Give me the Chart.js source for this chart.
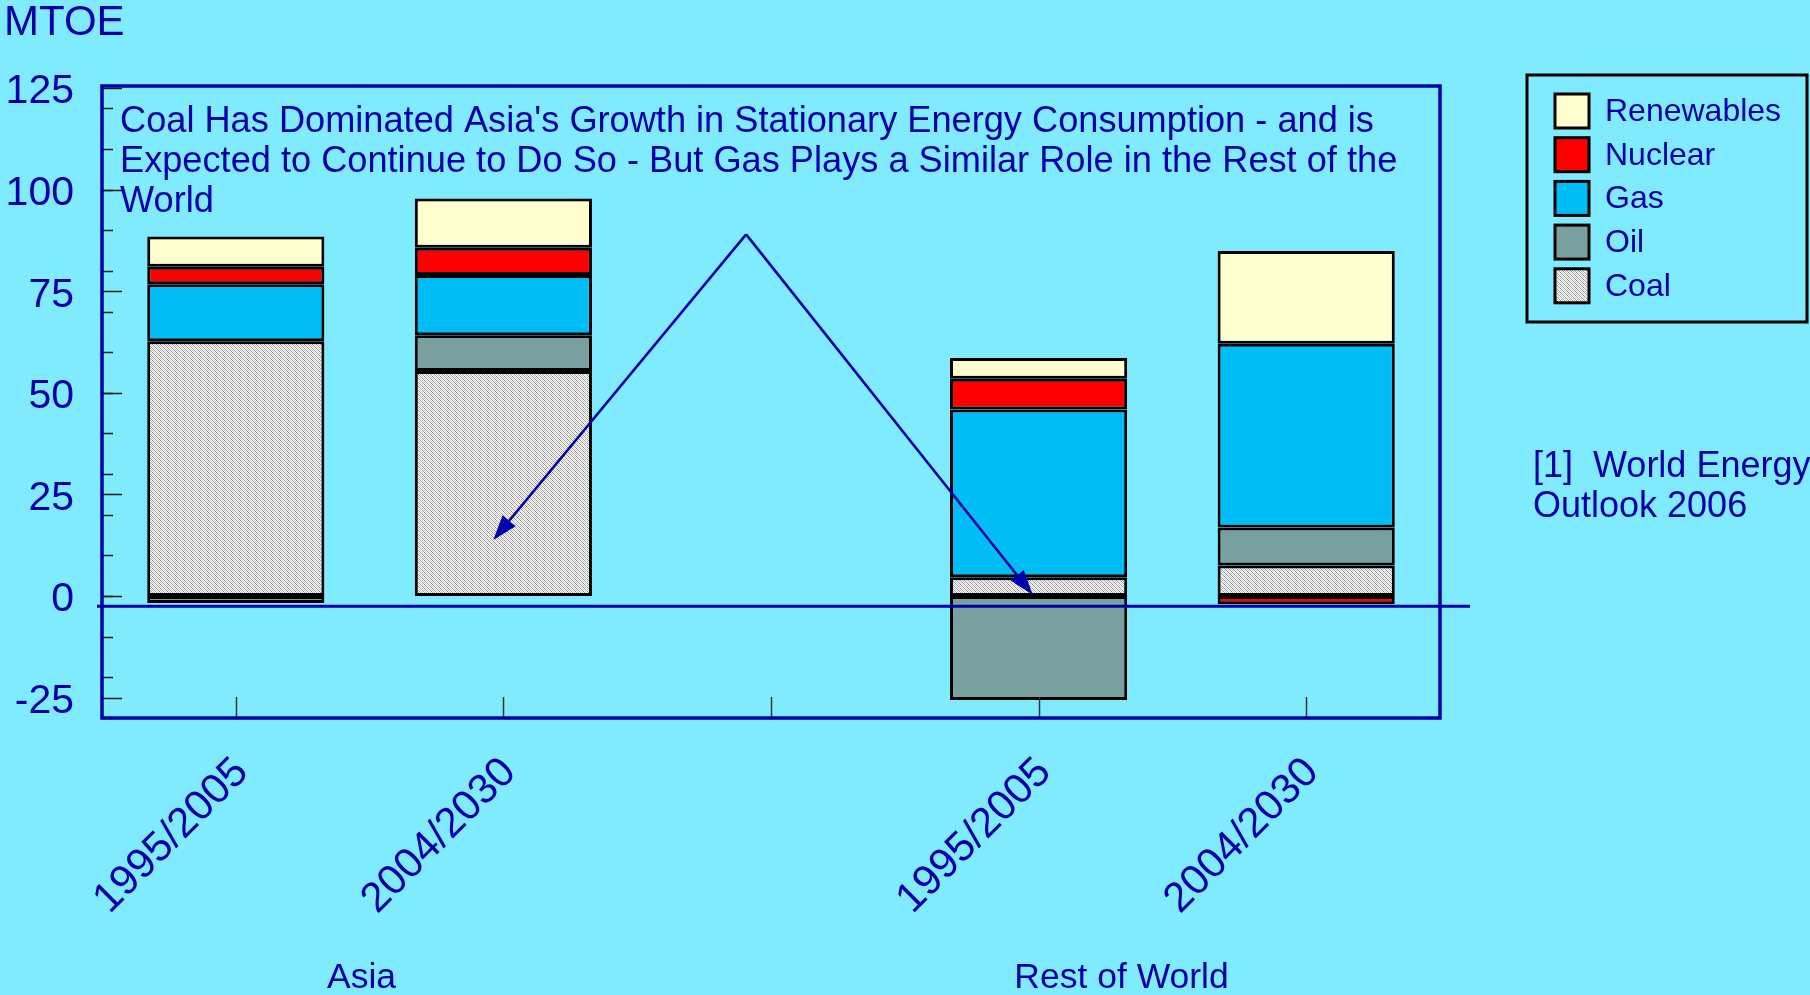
<!DOCTYPE html>
<html>
<head>
<meta charset="utf-8">
<script src="https://cdn.jsdelivr.net/npm/chart.js@4/dist/chart.umd.min.js"></script>
<style>
  html, body { margin: 0; padding: 0; background: #80EAFF; }
  #wrap { width: 1810px; height: 995px; }
</style>
</head>
<body>
<div id="wrap"><canvas id="chart" width="1810" height="995"></canvas></div>
<script>
// Data (MTOE change per period)
const periods = ['1995/2005', '2004/2030', '', '1995/2005', '2004/2030'];
const regions = ['Asia', 'Rest of World'];
const coal = [62.7, 55.4, null, 4.6, 7.5];
const oil = [-1.7, 8.8, null, -25.6, 9.4];
const gas = [14.0, 14.8, null, 41.3, 45.2];
const nuclear = [4.3, 6.7, null, 7.6, -2.0];
const renewables = [7.5, 12.1, null, 5.1, 22.8];
const yTickValues = [-25, 0, 25, 50, 75, 100, 125];
const titleLines = [
  "Coal Has Dominated Asia's Growth in Stationary Energy Consumption - and is",
  'Expected to Continue to Do So - But Gas Plays a Similar Role in the Rest of the',
  'World'
];
const footnote = ['[1]  World Energy', 'Outlook 2006'];

const FONT = '"Liberation Sans", Arial, sans-serif';
const BLUE = '#0000A8';

function coalPattern() {
  const c = document.createElement('canvas');
  c.width = 4; c.height = 4;
  const g = c.getContext('2d');
  g.fillStyle = '#ffffff';
  g.fillRect(0, 0, 4, 4);
  g.fillStyle = '#9a9a9a';
  for (let i = 0; i < 4; i++) {
    g.fillRect(i, i, 1, 1);
  }
  g.fillStyle = '#d0d0d0';
  for (let i = 0; i < 4; i++) {
    g.fillRect((i + 2) % 4, i, 1, 1);
  }
  return g.createPattern(c, 'repeat');
}

const coalFill = coalPattern();

const series = [
  { label: 'Coal', data: coal, backgroundColor: coalFill },
  { label: 'Oil', data: oil, backgroundColor: '#78A09E' },
  { label: 'Gas', data: gas, backgroundColor: '#00BEF5' },
  { label: 'Nuclear', data: nuclear, backgroundColor: '#FF0000' },
  { label: 'Renewables', data: renewables, backgroundColor: '#FFFFD0' }
];

const decor = {
  id: 'decor',
  afterDatasetsDraw(chart) {
    const { ctx, chartArea: a, scales: { x, y } } = chart;
    ctx.save();

    // tick marks pointing inward
    ctx.strokeStyle = '#1a1a1a';
    ctx.lineWidth = 1.5;
    for (let v = -30; v <= 125; v += 10) {
      const py = Math.round(y.getPixelForValue(v)) + 0.5;
      ctx.beginPath(); ctx.moveTo(a.left, py); ctx.lineTo(a.left + 11, py); ctx.stroke();
    }
    yTickValues.forEach(v => {
      const py = Math.round(y.getPixelForValue(v)) + 0.5;
      ctx.beginPath(); ctx.moveTo(a.left, py); ctx.lineTo(a.left + 20, py); ctx.stroke();
    });
    ctx.strokeStyle = '#333';
    periods.forEach((p, i) => {
      const px = Math.round(x.getPixelForValue(i)) + 0.5;
      ctx.beginPath(); ctx.moveTo(px, a.bottom); ctx.lineTo(px, a.bottom - 21); ctx.stroke();
    });

    // frame
    ctx.strokeStyle = BLUE;
    ctx.lineWidth = 3.5;
    ctx.strokeRect(a.left, a.top, a.right - a.left, a.bottom - a.top);

    // baseline line
    const zy = y.getPixelForValue(-2.5);
    ctx.lineWidth = 3;
    ctx.beginPath(); ctx.moveTo(a.left - 5, zy); ctx.lineTo(a.right + 30, zy); ctx.stroke();

    // arrows
    const apex = [x.getPixelForValue(1.907), y.getPixelForValue(89)];
    const tips = [
      [x.getPixelForValue(0.962), y.getPixelForValue(13.8)],
      [x.getPixelForValue(2.978), y.getPixelForValue(0.3)]
    ];
    ctx.lineWidth = 2.6;
    ctx.fillStyle = BLUE;
    tips.forEach(t => {
      const ang = Math.atan2(t[1] - apex[1], t[0] - apex[0]);
      const len = 25, hw = 8.5;
      const bx = t[0] - len * Math.cos(ang), by = t[1] - len * Math.sin(ang);
      ctx.beginPath(); ctx.moveTo(apex[0], apex[1]); ctx.lineTo(bx, by); ctx.stroke();
      ctx.beginPath();
      ctx.moveTo(t[0], t[1]);
      ctx.lineTo(bx + hw * Math.sin(ang), by - hw * Math.cos(ang));
      ctx.lineTo(bx - hw * Math.sin(ang), by + hw * Math.cos(ang));
      ctx.closePath(); ctx.fill();
    });

    // texts
    ctx.fillStyle = BLUE;
    ctx.textBaseline = 'alphabetic';
    ctx.textAlign = 'left';
    ctx.font = '42px ' + FONT;
    ctx.fillText('MTOE', 4, 35);
    ctx.font = '36.2px ' + FONT;
    titleLines.forEach((l, i) => ctx.fillText(l, a.left + 18, 132 + i * 40));
    ctx.textAlign = 'center';
    ctx.font = '35.5px ' + FONT;
    ctx.fillText(regions[0], x.getPixelForValue(0.47), 988);
    ctx.fillText(regions[1], x.getPixelForValue(3.31), 988);
    ctx.textAlign = 'left';
    ctx.font = '36px ' + FONT;
    footnote.forEach((l, i) => ctx.fillText(l, 1533, 477 + i * 40));

    // legend
    ctx.strokeStyle = '#000';
    ctx.lineWidth = 3;
    ctx.strokeRect(1527, 75, 280, 247);
    ctx.font = '32px ' + FONT;
    ctx.textBaseline = 'middle';
    const order = [...chart.data.datasets].reverse();
    order.forEach((ds, i) => {
      const top = 94 + i * 43.7;
      ctx.fillStyle = ds.backgroundColor;
      ctx.fillRect(1555, top, 34, 34);
      ctx.strokeStyle = '#000';
      ctx.lineWidth = 3;
      ctx.strokeRect(1555, top, 34, 34);
      ctx.fillStyle = BLUE;
      ctx.fillText(ds.label, 1605, top + 18);
    });
    ctx.restore();
  }
};

new Chart(document.getElementById('chart'), {
  type: 'bar',
  data: {
    labels: periods,
    datasets: series.map(s => ({
      ...s,
      borderColor: '#000',
      borderWidth: 3,
      borderSkipped: false,
      categoryPercentage: 1,
      barPercentage: 0.662
    }))
  },
  options: {
    responsive: false,
    animation: false,
    devicePixelRatio: 1,
    layout: { padding: { left: 0, top: 86, right: 370, bottom: 0 } },
    plugins: { legend: { display: false }, tooltip: { enabled: false } },
    scales: {
      x: {
        stacked: true,
        offset: true,
        grid: { display: false },
        border: { display: false },
        afterFit: s => { s.height = 277; },
        ticks: {
          autoSkip: false, minRotation: 45, maxRotation: 45, padding: 22, labelOffset: 6,
          color: BLUE, font: { family: FONT, size: 42 }
        }
      },
      y: {
        stacked: true,
        min: -30,
        max: 125.5,
        grid: { display: false },
        border: { display: false },
        afterBuildTicks: s => { s.ticks = yTickValues.map(v => ({ value: v })); },
        afterFit: s => { s.width = 102; },
        ticks: { padding: 20, labelOffset: 4, color: BLUE, font: { family: FONT, size: 41 } }
      }
    }
  },
  plugins: [decor]
});
</script>
</body>
</html>
